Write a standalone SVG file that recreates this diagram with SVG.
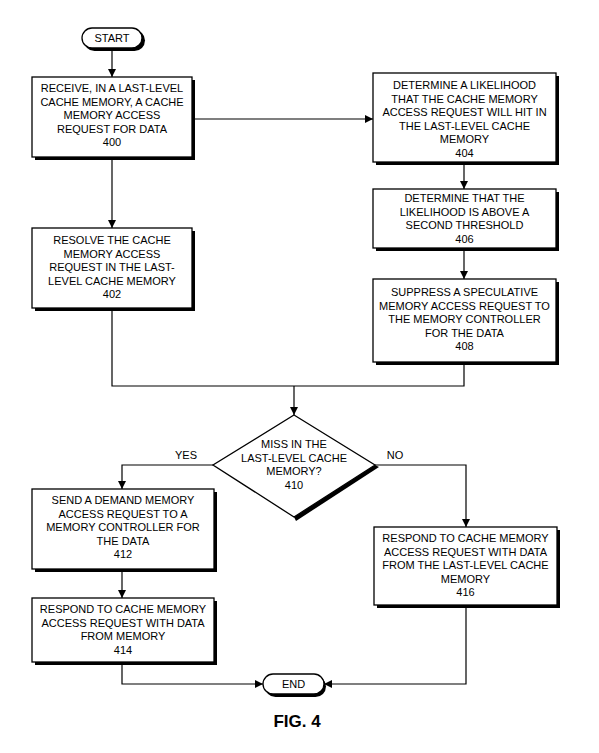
<svg xmlns="http://www.w3.org/2000/svg" width="599" height="753" viewBox="0 0 599 753">
<style>
.bg{fill:#fff}
.box{fill:#fff;stroke:#000;stroke-width:1.3}
.sh{fill:#000}
.t{font-family:"Liberation Sans",Arial,sans-serif;font-size:11px;fill:#000;text-anchor:middle}
.fig{font-family:"Liberation Sans",Arial,sans-serif;font-size:17px;font-weight:bold;fill:#000;text-anchor:middle}
.ln{fill:none;stroke:#000;stroke-width:1.2}
</style>
<defs>
<marker id="ah" viewBox="0 0 10 10" refX="10" refY="5" markerWidth="8" markerHeight="8" markerUnits="userSpaceOnUse" orient="auto">
<path d="M0,0 L10,5 L0,10 z" fill="#000"/>
</marker>
</defs>
<rect class="bg" x="0" y="0" width="599" height="753"/>

<g id="connectors">
<path class="ln" d="M112,48 V77" marker-end="url(#ah)"/>
<path class="ln" d="M192,119 H373" marker-end="url(#ah)"/>
<path class="ln" d="M112,160 V228" marker-end="url(#ah)"/>
<path class="ln" d="M464,165 V189" marker-end="url(#ah)"/>
<path class="ln" d="M464,251 V279" marker-end="url(#ah)"/>
<path class="ln" d="M112,311 V386 H464 V365"/>
<path class="ln" d="M294,386 V415" marker-end="url(#ah)"/>
<path class="ln" d="M213,465 H122 V489" marker-end="url(#ah)"/>
<path class="ln" d="M375,465 H466 V527" marker-end="url(#ah)"/>
<path class="ln" d="M122,572 V598" marker-end="url(#ah)"/>
<path class="ln" d="M122,665 V684 H263" marker-end="url(#ah)"/>
<path class="ln" d="M466,608 V684 H324" marker-end="url(#ah)"/>
</g>

<g id="start">
<rect class="sh" x="84" y="30" width="61" height="21" rx="10.5"/>
<rect class="box" x="82" y="28" width="60" height="20" rx="10"/>
<text class="t" x="112" y="42">START</text>
</g>

<g id="n400">
<rect class="sh" x="35" y="80" width="160" height="80"/>
<rect class="box" x="32" y="77" width="160" height="80"/>
<text class="t" x="112" y="92">RECEIVE, IN A LAST-LEVEL</text>
<text class="t" x="112" y="105.5">CACHE MEMORY, A CACHE</text>
<text class="t" x="112" y="119">MEMORY ACCESS</text>
<text class="t" x="112" y="132.5">REQUEST FOR DATA</text>
<text class="t" x="112" y="146">400</text>
</g>

<g id="n402">
<rect class="sh" x="35" y="231" width="160" height="80"/>
<rect class="box" x="32" y="228" width="160" height="80"/>
<text class="t" x="112" y="244">RESOLVE THE CACHE</text>
<text class="t" x="112" y="257.5">MEMORY ACCESS</text>
<text class="t" x="112" y="271">REQUEST IN THE LAST-</text>
<text class="t" x="112" y="284.5">LEVEL CACHE MEMORY</text>
<text class="t" x="112" y="298">402</text>
</g>

<g id="n404">
<rect class="sh" x="376" y="76" width="183" height="89"/>
<rect class="box" x="373" y="73" width="183" height="89"/>
<text class="t" x="464.5" y="89">DETERMINE A LIKELIHOOD</text>
<text class="t" x="464.5" y="102.5">THAT THE CACHE MEMORY</text>
<text class="t" x="464.5" y="116">ACCESS REQUEST WILL HIT IN</text>
<text class="t" x="464.5" y="129.5">THE LAST-LEVEL CACHE</text>
<text class="t" x="464.5" y="143">MEMORY</text>
<text class="t" x="464.5" y="156.5">404</text>
</g>

<g id="n406">
<rect class="sh" x="376" y="192" width="183" height="59"/>
<rect class="box" x="373" y="189" width="183" height="59"/>
<text class="t" x="464.5" y="202">DETERMINE THAT THE</text>
<text class="t" x="464.5" y="215.5">LIKELIHOOD IS ABOVE A</text>
<text class="t" x="464.5" y="229">SECOND THRESHOLD</text>
<text class="t" x="464.5" y="242.5">406</text>
</g>

<g id="n408">
<rect class="sh" x="376" y="282" width="183" height="83"/>
<rect class="box" x="373" y="279" width="183" height="83"/>
<text class="t" x="464.5" y="296">SUPPRESS A SPECULATIVE</text>
<text class="t" x="464.5" y="309.5">MEMORY ACCESS REQUEST TO</text>
<text class="t" x="464.5" y="323">THE MEMORY CONTROLLER</text>
<text class="t" x="464.5" y="336.5">FOR THE DATA</text>
<text class="t" x="464.5" y="350">408</text>
</g>

<g id="n410">
<polygon class="sh" points="375,465 379,467 296,521 294,517"/>
<polygon class="box" points="294,415 375,465 294,517 213,465"/>
<text class="t" x="294" y="448">MISS IN THE</text>
<text class="t" x="294" y="461.5">LAST-LEVEL CACHE</text>
<text class="t" x="294" y="475">MEMORY?</text>
<text class="t" x="294" y="488.5">410</text>
<text class="t" x="186" y="459">YES</text>
<text class="t" x="395" y="459">NO</text>
</g>

<g id="n412">
<rect class="sh" x="35" y="492" width="182" height="80"/>
<rect class="box" x="32" y="489" width="182" height="80"/>
<text class="t" x="123" y="504">SEND A DEMAND MEMORY</text>
<text class="t" x="123" y="517.5">ACCESS REQUEST TO A</text>
<text class="t" x="123" y="531">MEMORY CONTROLLER FOR</text>
<text class="t" x="123" y="544.5">THE DATA</text>
<text class="t" x="123" y="558">412</text>
</g>

<g id="n414">
<rect class="sh" x="35" y="601" width="182" height="64"/>
<rect class="box" x="32" y="598" width="182" height="64"/>
<text class="t" x="123" y="613">RESPOND TO CACHE MEMORY</text>
<text class="t" x="123" y="626.5">ACCESS REQUEST WITH DATA</text>
<text class="t" x="123" y="640">FROM MEMORY</text>
<text class="t" x="123" y="653.5">414</text>
</g>

<g id="n416">
<rect class="sh" x="377" y="530" width="183" height="78"/>
<rect class="box" x="374" y="527" width="183" height="78"/>
<text class="t" x="465.5" y="542">RESPOND TO CACHE MEMORY</text>
<text class="t" x="465.5" y="555.5">ACCESS REQUEST WITH DATA</text>
<text class="t" x="465.5" y="569">FROM THE LAST-LEVEL CACHE</text>
<text class="t" x="465.5" y="582.5">MEMORY</text>
<text class="t" x="465.5" y="596">416</text>
</g>

<g id="end">
<rect class="sh" x="265" y="676" width="61" height="21" rx="10.5"/>
<rect class="box" x="263" y="674" width="61" height="20" rx="10"/>
<text class="t" x="293.5" y="688">END</text>
</g>

<text class="fig" x="297" y="727">FIG. 4</text>
</svg>
